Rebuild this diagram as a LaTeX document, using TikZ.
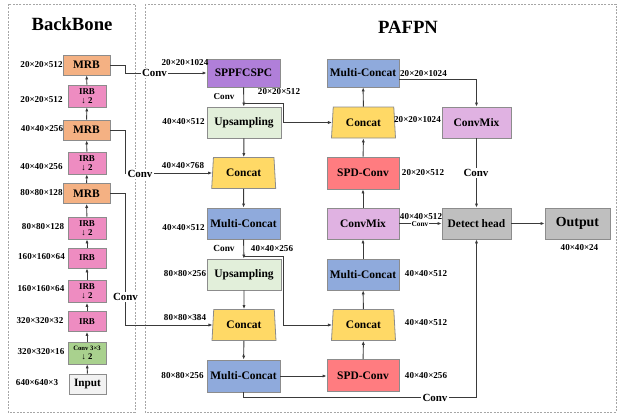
\documentclass[tikz,border=0pt]{standalone}
\usepackage{fontspec}
\setmainfont{Liberation Serif}
\usetikzlibrary{arrows.meta,shapes.geometric}

\definecolor{boxline}{HTML}{8C8C8C}
\definecolor{linecol}{HTML}{3A3A3A}
\definecolor{dashcol}{HTML}{A6A6A6}
\definecolor{mrbcol}{HTML}{F4B183}
\definecolor{irbcol}{HTML}{EE8CC1}
\definecolor{convcol}{HTML}{A9D18E}
\definecolor{inputcol}{HTML}{F2F2F2}
\definecolor{sppfcol}{HTML}{B07FD9}
\definecolor{upcol}{HTML}{E2EFDA}
\definecolor{catcol}{HTML}{FFD966}
\definecolor{mccol}{HTML}{8FAADC}
\definecolor{spdcol}{HTML}{FF7C80}
\definecolor{mixcol}{HTML}{E0B2E2}
\definecolor{greycol}{HTML}{BFBFBF}

\begin{document}
\begin{tikzpicture}[x=0.75pt,y=-0.75pt,
  blk/.style={draw=boxline, line width=0.6pt, inner sep=0pt, align=center,
    font=\fontsize{8.6}{10}\selectfont\bfseries},
  mrb/.style={blk, fill=mrbcol, minimum width=35.25pt, minimum height=15pt},
  irb/.style={blk, fill=irbcol, minimum width=28.5pt, minimum height=16.5pt,
    font=\fontsize{6.7}{7}\selectfont\bfseries},
  cthree/.style={blk, fill=convcol, minimum width=28.5pt, minimum height=16.5pt,
    font=\fontsize{6.5}{6.6}\selectfont\bfseries},
  inbox/.style={blk, fill=inputcol, minimum width=27.75pt, minimum height=15pt,
    font=\fontsize{8.4}{10}\selectfont\bfseries},
  wide/.style={blk, minimum width=54.75pt, minimum height=23.25pt},
  cat/.style={trapezium, trapezium left angle=82.6, trapezium right angle=82.6,
    trapezium stretches=true, draw=boxline, line width=0.6pt, fill=catcol,
    minimum width=48pt, minimum height=23.25pt, inner sep=0pt,
    font=\fontsize{8.6}{10}\selectfont\bfseries},
  dim/.style={inner sep=0.5pt, font=\fontsize{6.8}{8}\selectfont\bfseries},
  conv/.style={inner sep=0.8pt, fill=white, font=\fontsize{8.2}{9}\selectfont\bfseries},
  title/.style={font=\fontsize{14}{16}\selectfont\bfseries},
  link/.style={draw=linecol, line width=0.7pt, -{Latex[length=3pt,width=2.4pt]}},
  wire/.style={draw=linecol, line width=0.7pt},
  dashbox/.style={draw=dashcol, line width=0.5pt, dash pattern=on 1.5pt off 1pt}]
\useasboundingbox (0,0) rectangle (619,414);

% frames
\draw[dashbox] (8,4) rectangle (135,412);
\draw[dashbox] (145,4) rectangle (616,412);
\node[title] (tbb) at (72,24) {BackBone};
\node[title] (tpa) at (408,27) {PAFPN};

% ---------------- backbone ----------------
\node[mrb] (mrb1) at (86.5,65) {MRB};
\node[irb] (irb1) at (87,96) {IRB\\↓ 2};
\node[mrb] (mrb2) at (86.5,130) {MRB};
\node[irb] (irb2) at (87,163) {IRB\\↓ 2};
\node[mrb] (mrb3) at (86.5,193.5) {MRB};
\node[irb] (irb3) at (87,228) {IRB\\↓ 2};
\node[irb, minimum height=15pt] (irb4) at (87,258) {IRB};
\node[irb] (irb5) at (87,291.5) {IRB\\↓ 2};
\node[irb, minimum height=15pt] (irb6) at (87,321.5) {IRB};
\node[cthree] (c33) at (87,353) {{\fontsize{5}{5.5}\selectfont Conv 3×3}\\↓ 2};
\node[inbox] (inp) at (87.5,384) {Input};

\draw[link] (inp) -- (c33);
\draw[link] (c33) -- (irb6);
\draw[link] (irb6) -- (irb5);
\draw[link] (irb5) -- (irb4);
\draw[link] (irb4) -- (irb3);
\draw[link] (irb3) -- (mrb3);
\draw[link] (mrb3) -- (irb2);
\draw[link] (irb2) -- (mrb2);
\draw[link] (mrb2) -- (irb1);
\draw[link] (irb1) -- (mrb1);

\node[dim] (d1) at (41.5,65) {20×20×512};
\node[dim] (d2) at (41.5,100) {20×20×512};
\node[dim] (d3) at (42,129) {40×40×256};
\node[dim] (d4) at (41.5,167) {40×40×256};
\node[dim] (d5) at (41.5,193) {80×80×128};
\node[dim] (d6) at (43,227) {80×80×128};
\node[dim] (d7) at (41.5,257) {160×160×64};
\node[dim] (d8) at (41,289) {160×160×64};
\node[dim] (d9) at (40,321) {320×320×32};
\node[dim] (d10) at (41,352) {320×320×16};
\node[dim] (d11) at (37,383) {640×640×3};

% ---------------- PAFPN, left column ----------------
\node[wide, fill=sppfcol, minimum height=21pt] (sppf) at (243.5,73) {SPPFCSPC};
\node[wide, fill=upcol, minimum width=55.5pt] (up1) at (244,122.5) {Upsampling};
\node[cat] (cat1) at (243.7,173) {Concat};
\node[wide, fill=mccol] (mc1) at (243.5,223.5) {Multi-Concat};
\node[wide, fill=upcol, minimum width=55.5pt] (up2) at (244,274.5) {Upsampling};
\node[cat] (cat2) at (244,325) {Concat};
\node[wide, fill=mccol, minimum height=24pt] (mc2) at (243.5,376) {Multi-Concat};

% ---------------- PAFPN, right column ----------------
\node[wide, fill=mccol, minimum width=54pt, minimum height=21pt] (mc4) at (363,73) {Multi-Concat};
\node[cat] (cat3) at (363.5,122.5) {Concat};
\node[wide, fill=spdcol, minimum width=54pt, minimum height=24pt] (spd1) at (363,173) {SPD-Conv};
\node[wide, fill=mixcol, minimum width=54pt] (mix1) at (363,223.5) {ConvMix};
\node[wide, fill=mccol, minimum width=54pt] (mc3) at (363,274.5) {Multi-Concat};
\node[cat] (cat4) at (363.5,325) {Concat};
\node[wide, fill=spdcol, minimum width=54pt, minimum height=24pt] (spd2) at (363,375.5) {SPD-Conv};

% ---------------- head ----------------
\node[wide, fill=mixcol, minimum width=51.75pt] (mix2) at (476.5,122.5) {ConvMix};
\node[wide, fill=greycol, minimum width=51.75pt] (det) at (476.5,223.5) {Detect head};
\node[wide, fill=greycol, minimum width=48.75pt, font=\fontsize{10.4}{12}\selectfont\bfseries] (out) at (577.5,223.5) {Output};

% ---------------- connectors ----------------
\draw[link] (mrb1.east) -- ++(15,0) |- (sppf.west);
\draw[link] (mrb2.east) -- ++(15,0) |- (cat1.west);
\draw[link] (mrb3.east) -- ++(15,0) |- (cat2.west);

\draw[link] (sppf) -- (up1);
\coordinate (br1) at (243.5,103);
\draw[link] (br1) -- ++(39.5,0) |- (cat3.west);
\draw[link] (up1) -- (cat1);
\draw[link] (cat1) -- (mc1);
\draw[link] (mc1) -- (up2);
\coordinate (br2) at (243.5,256.5);
\draw[link] (br2) -- ++(39.5,0) |- (cat4.west);
\draw[link] (up2) -- (cat2);
\draw[link] (cat2) -- (mc2);
\draw[link] (mc2.east) -- (mc2.east -| spd2.west);
\draw[link] (mc2.south) -- ++(0,5.5) -| (det.south);

\draw[link] (spd2) -- (cat4);
\draw[link] (cat4) -- (mc3);
\draw[link] (mc3) -- (mix1);
\draw[link] (mix1) -- (spd1);
\draw[link] (spd1) -- (cat3);
\draw[link] (cat3) -- (mc4);
\draw[link] ([yshift=-4.5pt]mc4.east) -| (mix2.north);
\draw[link] (mix2) -- (det);
\draw[link] (mix1) -- (det);
\draw[link] (det) -- (out);

% ---------------- connector labels ----------------
\node[conv] (cv1) at (154.5,73) {Conv};
\node[conv] (cv2) at (140,174) {Conv};
\node[conv] (cv3) at (125.5,297) {Conv};
\node[conv, fill=none, font=\fontsize{6.8}{8}\selectfont\bfseries] (cv4) at (224,97) {Conv};
\node[conv, fill=none, font=\fontsize{7}{8}\selectfont\bfseries] (cv5) at (224,248) {Conv};
\node[conv] (cv6) at (476,173) {Conv};
\node[conv, inner sep=0.3pt, font=\fontsize{5.5}{6}\selectfont\bfseries] (cv7) at (420,224.5) {Conv};
\node[conv] (cv8) at (435,397.5) {Conv};

\node[dim] (e1) at (185,63) {20×20×1024};
\node[dim] (e2) at (279,92) {20×20×512};
\node[dim] (e3) at (183.5,122) {40×40×512};
\node[dim] (e4) at (183,166) {40×40×768};
\node[dim] (e5) at (183.5,228) {40×40×512};
\node[dim] (e6) at (272,249) {40×40×256};
\node[dim] (e7) at (185,274) {80×80×256};
\node[dim] (e8) at (185,318) {80×80×384};
\node[dim] (e9) at (182.5,376) {80×80×256};
\node[dim] (e10) at (423.5,74) {20×20×1024};
\node[dim] (e11) at (417.5,120) {20×20×1024};
\node[dim] (e12) at (423,173) {20×20×512};
\node[dim] (e13) at (421,217) {40×40×512};
\node[dim] (e14) at (426,274) {40×40×512};
\node[dim] (e15) at (426,323) {40×40×512};
\node[dim] (e16) at (426,376) {40×40×256};
\node[dim] (e17) at (579.5,248) {40×40×24};
\end{tikzpicture}
\end{document}
